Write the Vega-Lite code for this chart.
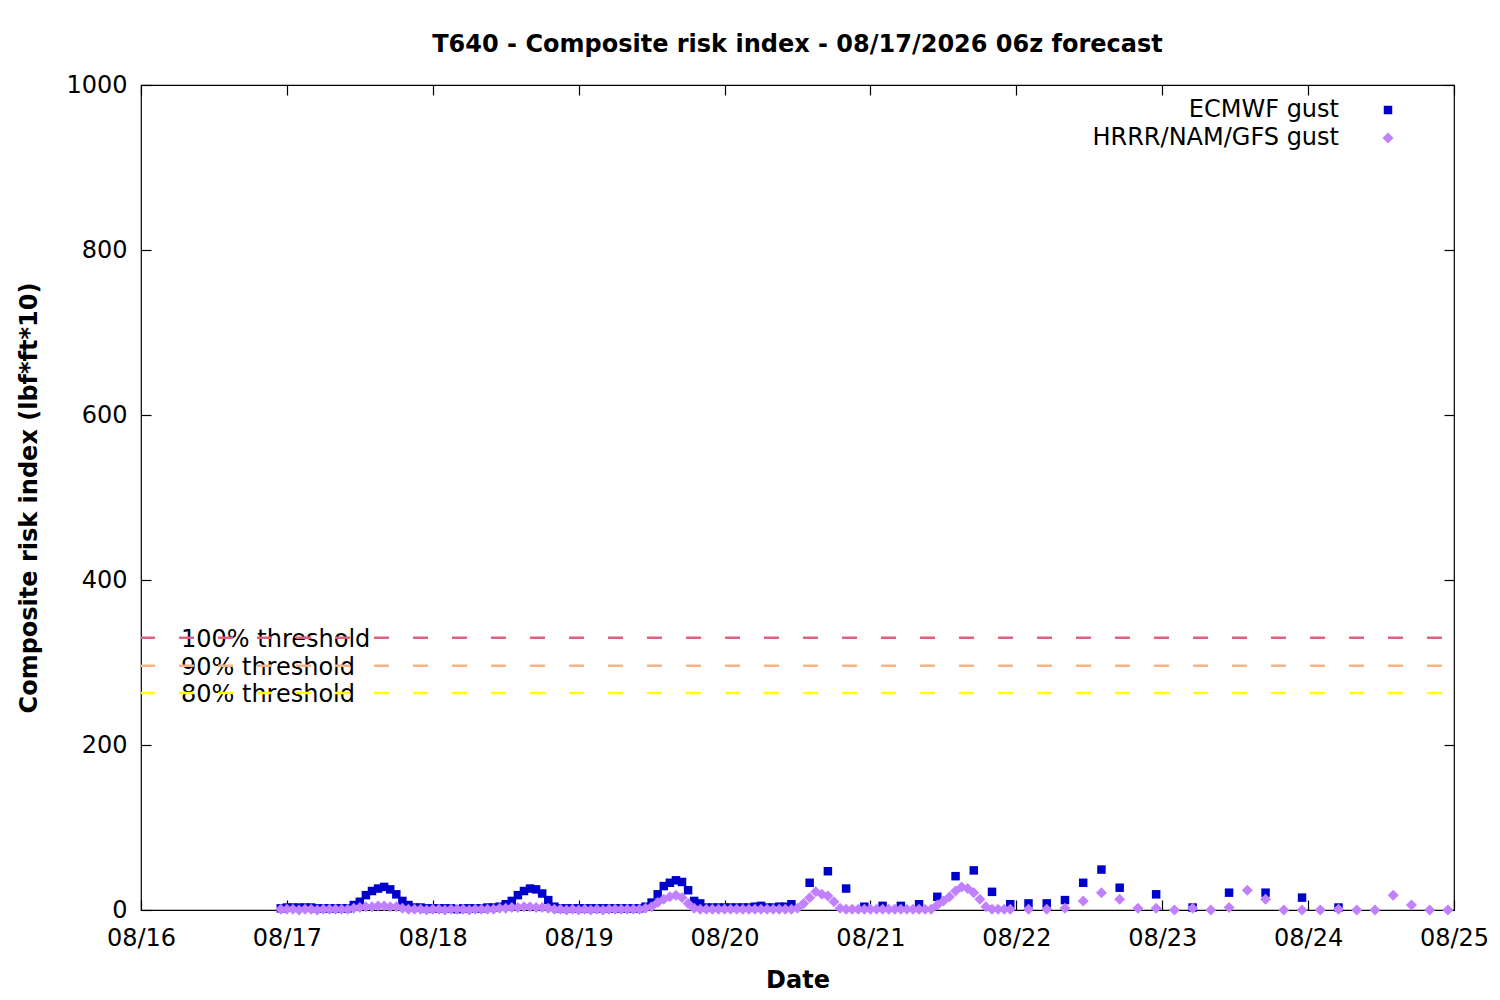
{
  "$schema": "https://vega.github.io/schema/vega-lite/v6.json",
  "width": 1313,
  "height": 825,
  "autosize": "none",
  "padding": {"left": 141, "top": 85, "right": 46, "bottom": 90},
  "background": "white",
  "config": {
    "view": {"stroke": "black", "strokeWidth": 1.2},
    "font": "DejaVu Sans",
    "axis": {
      "labelFont": "DejaVu Sans", "labelFontSize": 24, "labelColor": "black",
      "titleFont": "DejaVu Sans", "titleFontSize": 24, "titleFontWeight": "bold", "titleColor": "black",
      "tickColor": "black", "tickSize": -10, "tickWidth": 1.2, "domain": false, "grid": false
    }
  },
  "title": {
    "text": "T640 - Composite risk index - 08/17/2026 06z forecast",
    "font": "DejaVu Sans", "fontSize": 24, "fontWeight": "bold", "color": "black",
    "anchor": "middle", "frame": "group", "offset": 16
  },
  "datasets": {
    "thresholds": [
      {"label": "100% threshold", "value": 330},
      {"label": "90% threshold", "value": 296},
      {"label": "80% threshold", "value": 263}
    ],
    "gust": [
      {"time": "2026-08-16T23:00Z", "series": "ECMWF gust", "value": 2},
      {"time": "2026-08-17T00:00Z", "series": "ECMWF gust", "value": 3},
      {"time": "2026-08-17T01:00Z", "series": "ECMWF gust", "value": 3},
      {"time": "2026-08-17T02:00Z", "series": "ECMWF gust", "value": 3},
      {"time": "2026-08-17T03:00Z", "series": "ECMWF gust", "value": 3},
      {"time": "2026-08-17T04:00Z", "series": "ECMWF gust", "value": 3},
      {"time": "2026-08-17T05:00Z", "series": "ECMWF gust", "value": 2},
      {"time": "2026-08-17T06:00Z", "series": "ECMWF gust", "value": 2},
      {"time": "2026-08-17T07:00Z", "series": "ECMWF gust", "value": 2},
      {"time": "2026-08-17T08:00Z", "series": "ECMWF gust", "value": 2},
      {"time": "2026-08-17T09:00Z", "series": "ECMWF gust", "value": 2},
      {"time": "2026-08-17T10:00Z", "series": "ECMWF gust", "value": 2},
      {"time": "2026-08-17T11:00Z", "series": "ECMWF gust", "value": 6},
      {"time": "2026-08-17T12:00Z", "series": "ECMWF gust", "value": 10},
      {"time": "2026-08-17T13:00Z", "series": "ECMWF gust", "value": 18},
      {"time": "2026-08-17T14:00Z", "series": "ECMWF gust", "value": 23},
      {"time": "2026-08-17T15:00Z", "series": "ECMWF gust", "value": 26},
      {"time": "2026-08-17T16:00Z", "series": "ECMWF gust", "value": 28},
      {"time": "2026-08-17T17:00Z", "series": "ECMWF gust", "value": 25},
      {"time": "2026-08-17T18:00Z", "series": "ECMWF gust", "value": 19},
      {"time": "2026-08-17T19:00Z", "series": "ECMWF gust", "value": 11},
      {"time": "2026-08-17T20:00Z", "series": "ECMWF gust", "value": 6},
      {"time": "2026-08-17T21:00Z", "series": "ECMWF gust", "value": 3},
      {"time": "2026-08-17T22:00Z", "series": "ECMWF gust", "value": 3},
      {"time": "2026-08-17T23:00Z", "series": "ECMWF gust", "value": 2},
      {"time": "2026-08-18T00:00Z", "series": "ECMWF gust", "value": 2},
      {"time": "2026-08-18T01:00Z", "series": "ECMWF gust", "value": 2},
      {"time": "2026-08-18T02:00Z", "series": "ECMWF gust", "value": 2},
      {"time": "2026-08-18T03:00Z", "series": "ECMWF gust", "value": 2},
      {"time": "2026-08-18T04:00Z", "series": "ECMWF gust", "value": 1},
      {"time": "2026-08-18T05:00Z", "series": "ECMWF gust", "value": 2},
      {"time": "2026-08-18T06:00Z", "series": "ECMWF gust", "value": 2},
      {"time": "2026-08-18T07:00Z", "series": "ECMWF gust", "value": 2},
      {"time": "2026-08-18T08:00Z", "series": "ECMWF gust", "value": 2},
      {"time": "2026-08-18T09:00Z", "series": "ECMWF gust", "value": 3},
      {"time": "2026-08-18T10:00Z", "series": "ECMWF gust", "value": 3},
      {"time": "2026-08-18T11:00Z", "series": "ECMWF gust", "value": 4},
      {"time": "2026-08-18T12:00Z", "series": "ECMWF gust", "value": 7},
      {"time": "2026-08-18T13:00Z", "series": "ECMWF gust", "value": 11},
      {"time": "2026-08-18T14:00Z", "series": "ECMWF gust", "value": 18},
      {"time": "2026-08-18T15:00Z", "series": "ECMWF gust", "value": 23},
      {"time": "2026-08-18T16:00Z", "series": "ECMWF gust", "value": 26},
      {"time": "2026-08-18T17:00Z", "series": "ECMWF gust", "value": 25},
      {"time": "2026-08-18T18:00Z", "series": "ECMWF gust", "value": 20},
      {"time": "2026-08-18T19:00Z", "series": "ECMWF gust", "value": 12},
      {"time": "2026-08-18T20:00Z", "series": "ECMWF gust", "value": 4},
      {"time": "2026-08-18T21:00Z", "series": "ECMWF gust", "value": 2},
      {"time": "2026-08-18T22:00Z", "series": "ECMWF gust", "value": 2},
      {"time": "2026-08-18T23:00Z", "series": "ECMWF gust", "value": 2},
      {"time": "2026-08-19T00:00Z", "series": "ECMWF gust", "value": 2},
      {"time": "2026-08-19T01:00Z", "series": "ECMWF gust", "value": 2},
      {"time": "2026-08-19T02:00Z", "series": "ECMWF gust", "value": 2},
      {"time": "2026-08-19T03:00Z", "series": "ECMWF gust", "value": 2},
      {"time": "2026-08-19T04:00Z", "series": "ECMWF gust", "value": 2},
      {"time": "2026-08-19T05:00Z", "series": "ECMWF gust", "value": 2},
      {"time": "2026-08-19T06:00Z", "series": "ECMWF gust", "value": 2},
      {"time": "2026-08-19T07:00Z", "series": "ECMWF gust", "value": 2},
      {"time": "2026-08-19T08:00Z", "series": "ECMWF gust", "value": 2},
      {"time": "2026-08-19T09:00Z", "series": "ECMWF gust", "value": 2},
      {"time": "2026-08-19T10:00Z", "series": "ECMWF gust", "value": 2},
      {"time": "2026-08-19T11:00Z", "series": "ECMWF gust", "value": 4},
      {"time": "2026-08-19T12:00Z", "series": "ECMWF gust", "value": 9},
      {"time": "2026-08-19T13:00Z", "series": "ECMWF gust", "value": 19},
      {"time": "2026-08-19T14:00Z", "series": "ECMWF gust", "value": 29},
      {"time": "2026-08-19T15:00Z", "series": "ECMWF gust", "value": 33},
      {"time": "2026-08-19T16:00Z", "series": "ECMWF gust", "value": 36},
      {"time": "2026-08-19T17:00Z", "series": "ECMWF gust", "value": 34},
      {"time": "2026-08-19T18:00Z", "series": "ECMWF gust", "value": 24},
      {"time": "2026-08-19T19:00Z", "series": "ECMWF gust", "value": 11},
      {"time": "2026-08-19T20:00Z", "series": "ECMWF gust", "value": 8},
      {"time": "2026-08-19T21:00Z", "series": "ECMWF gust", "value": 3},
      {"time": "2026-08-19T22:00Z", "series": "ECMWF gust", "value": 3},
      {"time": "2026-08-19T23:00Z", "series": "ECMWF gust", "value": 3},
      {"time": "2026-08-20T00:00Z", "series": "ECMWF gust", "value": 3},
      {"time": "2026-08-20T01:00Z", "series": "ECMWF gust", "value": 3},
      {"time": "2026-08-20T02:00Z", "series": "ECMWF gust", "value": 3},
      {"time": "2026-08-20T03:00Z", "series": "ECMWF gust", "value": 3},
      {"time": "2026-08-20T04:00Z", "series": "ECMWF gust", "value": 3},
      {"time": "2026-08-20T05:00Z", "series": "ECMWF gust", "value": 4},
      {"time": "2026-08-20T06:00Z", "series": "ECMWF gust", "value": 5},
      {"time": "2026-08-20T07:00Z", "series": "ECMWF gust", "value": 3},
      {"time": "2026-08-20T08:00Z", "series": "ECMWF gust", "value": 3},
      {"time": "2026-08-20T09:00Z", "series": "ECMWF gust", "value": 4},
      {"time": "2026-08-20T10:00Z", "series": "ECMWF gust", "value": 4},
      {"time": "2026-08-20T11:00Z", "series": "ECMWF gust", "value": 7},
      {"time": "2026-08-20T14:00Z", "series": "ECMWF gust", "value": 33},
      {"time": "2026-08-20T17:00Z", "series": "ECMWF gust", "value": 47},
      {"time": "2026-08-20T20:00Z", "series": "ECMWF gust", "value": 26},
      {"time": "2026-08-20T23:00Z", "series": "ECMWF gust", "value": 4},
      {"time": "2026-08-21T02:00Z", "series": "ECMWF gust", "value": 5},
      {"time": "2026-08-21T05:00Z", "series": "ECMWF gust", "value": 5},
      {"time": "2026-08-21T08:00Z", "series": "ECMWF gust", "value": 7},
      {"time": "2026-08-21T11:00Z", "series": "ECMWF gust", "value": 16},
      {"time": "2026-08-21T14:00Z", "series": "ECMWF gust", "value": 41},
      {"time": "2026-08-21T17:00Z", "series": "ECMWF gust", "value": 48},
      {"time": "2026-08-21T20:00Z", "series": "ECMWF gust", "value": 22},
      {"time": "2026-08-21T23:00Z", "series": "ECMWF gust", "value": 7},
      {"time": "2026-08-22T02:00Z", "series": "ECMWF gust", "value": 8},
      {"time": "2026-08-22T05:00Z", "series": "ECMWF gust", "value": 8},
      {"time": "2026-08-22T08:00Z", "series": "ECMWF gust", "value": 12},
      {"time": "2026-08-22T11:00Z", "series": "ECMWF gust", "value": 33},
      {"time": "2026-08-22T14:00Z", "series": "ECMWF gust", "value": 49},
      {"time": "2026-08-22T17:00Z", "series": "ECMWF gust", "value": 27},
      {"time": "2026-08-22T23:00Z", "series": "ECMWF gust", "value": 19},
      {"time": "2026-08-23T05:00Z", "series": "ECMWF gust", "value": 3},
      {"time": "2026-08-23T11:00Z", "series": "ECMWF gust", "value": 21},
      {"time": "2026-08-23T17:00Z", "series": "ECMWF gust", "value": 21},
      {"time": "2026-08-23T23:00Z", "series": "ECMWF gust", "value": 15},
      {"time": "2026-08-24T05:00Z", "series": "ECMWF gust", "value": 3},
      {"time": "2026-08-16T23:00Z", "series": "HRRR/NAM/GFS gust", "value": 1},
      {"time": "2026-08-17T00:00Z", "series": "HRRR/NAM/GFS gust", "value": 1},
      {"time": "2026-08-17T01:00Z", "series": "HRRR/NAM/GFS gust", "value": 1},
      {"time": "2026-08-17T02:00Z", "series": "HRRR/NAM/GFS gust", "value": 0},
      {"time": "2026-08-17T03:00Z", "series": "HRRR/NAM/GFS gust", "value": 1},
      {"time": "2026-08-17T04:00Z", "series": "HRRR/NAM/GFS gust", "value": 1},
      {"time": "2026-08-17T05:00Z", "series": "HRRR/NAM/GFS gust", "value": 0},
      {"time": "2026-08-17T06:00Z", "series": "HRRR/NAM/GFS gust", "value": 1},
      {"time": "2026-08-17T07:00Z", "series": "HRRR/NAM/GFS gust", "value": 1},
      {"time": "2026-08-17T08:00Z", "series": "HRRR/NAM/GFS gust", "value": 1},
      {"time": "2026-08-17T09:00Z", "series": "HRRR/NAM/GFS gust", "value": 1},
      {"time": "2026-08-17T10:00Z", "series": "HRRR/NAM/GFS gust", "value": 1},
      {"time": "2026-08-17T11:00Z", "series": "HRRR/NAM/GFS gust", "value": 2},
      {"time": "2026-08-17T12:00Z", "series": "HRRR/NAM/GFS gust", "value": 3},
      {"time": "2026-08-17T13:00Z", "series": "HRRR/NAM/GFS gust", "value": 4},
      {"time": "2026-08-17T14:00Z", "series": "HRRR/NAM/GFS gust", "value": 4},
      {"time": "2026-08-17T15:00Z", "series": "HRRR/NAM/GFS gust", "value": 5},
      {"time": "2026-08-17T16:00Z", "series": "HRRR/NAM/GFS gust", "value": 5},
      {"time": "2026-08-17T17:00Z", "series": "HRRR/NAM/GFS gust", "value": 4},
      {"time": "2026-08-17T18:00Z", "series": "HRRR/NAM/GFS gust", "value": 4},
      {"time": "2026-08-17T19:00Z", "series": "HRRR/NAM/GFS gust", "value": 2},
      {"time": "2026-08-17T20:00Z", "series": "HRRR/NAM/GFS gust", "value": 1},
      {"time": "2026-08-17T21:00Z", "series": "HRRR/NAM/GFS gust", "value": 1},
      {"time": "2026-08-17T22:00Z", "series": "HRRR/NAM/GFS gust", "value": 1},
      {"time": "2026-08-17T23:00Z", "series": "HRRR/NAM/GFS gust", "value": 0},
      {"time": "2026-08-18T00:00Z", "series": "HRRR/NAM/GFS gust", "value": 1},
      {"time": "2026-08-18T01:00Z", "series": "HRRR/NAM/GFS gust", "value": 1},
      {"time": "2026-08-18T02:00Z", "series": "HRRR/NAM/GFS gust", "value": 0},
      {"time": "2026-08-18T03:00Z", "series": "HRRR/NAM/GFS gust", "value": 1},
      {"time": "2026-08-18T04:00Z", "series": "HRRR/NAM/GFS gust", "value": 1},
      {"time": "2026-08-18T05:00Z", "series": "HRRR/NAM/GFS gust", "value": 1},
      {"time": "2026-08-18T06:00Z", "series": "HRRR/NAM/GFS gust", "value": 0},
      {"time": "2026-08-18T07:00Z", "series": "HRRR/NAM/GFS gust", "value": 1},
      {"time": "2026-08-18T08:00Z", "series": "HRRR/NAM/GFS gust", "value": 1},
      {"time": "2026-08-18T09:00Z", "series": "HRRR/NAM/GFS gust", "value": 1},
      {"time": "2026-08-18T10:00Z", "series": "HRRR/NAM/GFS gust", "value": 1},
      {"time": "2026-08-18T11:00Z", "series": "HRRR/NAM/GFS gust", "value": 2},
      {"time": "2026-08-18T12:00Z", "series": "HRRR/NAM/GFS gust", "value": 2},
      {"time": "2026-08-18T13:00Z", "series": "HRRR/NAM/GFS gust", "value": 3},
      {"time": "2026-08-18T14:00Z", "series": "HRRR/NAM/GFS gust", "value": 3},
      {"time": "2026-08-18T15:00Z", "series": "HRRR/NAM/GFS gust", "value": 4},
      {"time": "2026-08-18T16:00Z", "series": "HRRR/NAM/GFS gust", "value": 4},
      {"time": "2026-08-18T17:00Z", "series": "HRRR/NAM/GFS gust", "value": 3},
      {"time": "2026-08-18T18:00Z", "series": "HRRR/NAM/GFS gust", "value": 3},
      {"time": "2026-08-18T19:00Z", "series": "HRRR/NAM/GFS gust", "value": 2},
      {"time": "2026-08-18T20:00Z", "series": "HRRR/NAM/GFS gust", "value": 1},
      {"time": "2026-08-18T21:00Z", "series": "HRRR/NAM/GFS gust", "value": 1},
      {"time": "2026-08-18T22:00Z", "series": "HRRR/NAM/GFS gust", "value": 0},
      {"time": "2026-08-18T23:00Z", "series": "HRRR/NAM/GFS gust", "value": 1},
      {"time": "2026-08-19T00:00Z", "series": "HRRR/NAM/GFS gust", "value": 0},
      {"time": "2026-08-19T01:00Z", "series": "HRRR/NAM/GFS gust", "value": 1},
      {"time": "2026-08-19T02:00Z", "series": "HRRR/NAM/GFS gust", "value": 0},
      {"time": "2026-08-19T03:00Z", "series": "HRRR/NAM/GFS gust", "value": 1},
      {"time": "2026-08-19T04:00Z", "series": "HRRR/NAM/GFS gust", "value": 0},
      {"time": "2026-08-19T05:00Z", "series": "HRRR/NAM/GFS gust", "value": 1},
      {"time": "2026-08-19T06:00Z", "series": "HRRR/NAM/GFS gust", "value": 1},
      {"time": "2026-08-19T07:00Z", "series": "HRRR/NAM/GFS gust", "value": 1},
      {"time": "2026-08-19T08:00Z", "series": "HRRR/NAM/GFS gust", "value": 1},
      {"time": "2026-08-19T09:00Z", "series": "HRRR/NAM/GFS gust", "value": 1},
      {"time": "2026-08-19T10:00Z", "series": "HRRR/NAM/GFS gust", "value": 1},
      {"time": "2026-08-19T11:00Z", "series": "HRRR/NAM/GFS gust", "value": 2},
      {"time": "2026-08-19T12:00Z", "series": "HRRR/NAM/GFS gust", "value": 4},
      {"time": "2026-08-19T13:00Z", "series": "HRRR/NAM/GFS gust", "value": 9},
      {"time": "2026-08-19T14:00Z", "series": "HRRR/NAM/GFS gust", "value": 13},
      {"time": "2026-08-19T15:00Z", "series": "HRRR/NAM/GFS gust", "value": 16},
      {"time": "2026-08-19T16:00Z", "series": "HRRR/NAM/GFS gust", "value": 18},
      {"time": "2026-08-19T17:00Z", "series": "HRRR/NAM/GFS gust", "value": 15},
      {"time": "2026-08-19T18:00Z", "series": "HRRR/NAM/GFS gust", "value": 8},
      {"time": "2026-08-19T19:00Z", "series": "HRRR/NAM/GFS gust", "value": 2},
      {"time": "2026-08-19T20:00Z", "series": "HRRR/NAM/GFS gust", "value": 1},
      {"time": "2026-08-19T21:00Z", "series": "HRRR/NAM/GFS gust", "value": 1},
      {"time": "2026-08-19T22:00Z", "series": "HRRR/NAM/GFS gust", "value": 1},
      {"time": "2026-08-19T23:00Z", "series": "HRRR/NAM/GFS gust", "value": 1},
      {"time": "2026-08-20T00:00Z", "series": "HRRR/NAM/GFS gust", "value": 1},
      {"time": "2026-08-20T01:00Z", "series": "HRRR/NAM/GFS gust", "value": 1},
      {"time": "2026-08-20T02:00Z", "series": "HRRR/NAM/GFS gust", "value": 1},
      {"time": "2026-08-20T03:00Z", "series": "HRRR/NAM/GFS gust", "value": 1},
      {"time": "2026-08-20T04:00Z", "series": "HRRR/NAM/GFS gust", "value": 1},
      {"time": "2026-08-20T05:00Z", "series": "HRRR/NAM/GFS gust", "value": 1},
      {"time": "2026-08-20T06:00Z", "series": "HRRR/NAM/GFS gust", "value": 1},
      {"time": "2026-08-20T07:00Z", "series": "HRRR/NAM/GFS gust", "value": 1},
      {"time": "2026-08-20T08:00Z", "series": "HRRR/NAM/GFS gust", "value": 1},
      {"time": "2026-08-20T09:00Z", "series": "HRRR/NAM/GFS gust", "value": 1},
      {"time": "2026-08-20T10:00Z", "series": "HRRR/NAM/GFS gust", "value": 1},
      {"time": "2026-08-20T11:00Z", "series": "HRRR/NAM/GFS gust", "value": 1},
      {"time": "2026-08-20T12:00Z", "series": "HRRR/NAM/GFS gust", "value": 2},
      {"time": "2026-08-20T13:00Z", "series": "HRRR/NAM/GFS gust", "value": 8},
      {"time": "2026-08-20T14:00Z", "series": "HRRR/NAM/GFS gust", "value": 15},
      {"time": "2026-08-20T15:00Z", "series": "HRRR/NAM/GFS gust", "value": 22},
      {"time": "2026-08-20T16:00Z", "series": "HRRR/NAM/GFS gust", "value": 19},
      {"time": "2026-08-20T17:00Z", "series": "HRRR/NAM/GFS gust", "value": 17},
      {"time": "2026-08-20T18:00Z", "series": "HRRR/NAM/GFS gust", "value": 10},
      {"time": "2026-08-20T19:00Z", "series": "HRRR/NAM/GFS gust", "value": 2},
      {"time": "2026-08-20T20:00Z", "series": "HRRR/NAM/GFS gust", "value": 1},
      {"time": "2026-08-20T21:00Z", "series": "HRRR/NAM/GFS gust", "value": 1},
      {"time": "2026-08-20T22:00Z", "series": "HRRR/NAM/GFS gust", "value": 1},
      {"time": "2026-08-20T23:00Z", "series": "HRRR/NAM/GFS gust", "value": 1},
      {"time": "2026-08-21T00:00Z", "series": "HRRR/NAM/GFS gust", "value": 1},
      {"time": "2026-08-21T01:00Z", "series": "HRRR/NAM/GFS gust", "value": 1},
      {"time": "2026-08-21T02:00Z", "series": "HRRR/NAM/GFS gust", "value": 1},
      {"time": "2026-08-21T03:00Z", "series": "HRRR/NAM/GFS gust", "value": 1},
      {"time": "2026-08-21T04:00Z", "series": "HRRR/NAM/GFS gust", "value": 1},
      {"time": "2026-08-21T05:00Z", "series": "HRRR/NAM/GFS gust", "value": 1},
      {"time": "2026-08-21T06:00Z", "series": "HRRR/NAM/GFS gust", "value": 1},
      {"time": "2026-08-21T07:00Z", "series": "HRRR/NAM/GFS gust", "value": 1},
      {"time": "2026-08-21T08:00Z", "series": "HRRR/NAM/GFS gust", "value": 1},
      {"time": "2026-08-21T09:00Z", "series": "HRRR/NAM/GFS gust", "value": 1},
      {"time": "2026-08-21T10:00Z", "series": "HRRR/NAM/GFS gust", "value": 1},
      {"time": "2026-08-21T11:00Z", "series": "HRRR/NAM/GFS gust", "value": 6},
      {"time": "2026-08-21T12:00Z", "series": "HRRR/NAM/GFS gust", "value": 11},
      {"time": "2026-08-21T13:00Z", "series": "HRRR/NAM/GFS gust", "value": 16},
      {"time": "2026-08-21T14:00Z", "series": "HRRR/NAM/GFS gust", "value": 23},
      {"time": "2026-08-21T15:00Z", "series": "HRRR/NAM/GFS gust", "value": 28},
      {"time": "2026-08-21T16:00Z", "series": "HRRR/NAM/GFS gust", "value": 26},
      {"time": "2026-08-21T17:00Z", "series": "HRRR/NAM/GFS gust", "value": 21},
      {"time": "2026-08-21T18:00Z", "series": "HRRR/NAM/GFS gust", "value": 13},
      {"time": "2026-08-21T19:00Z", "series": "HRRR/NAM/GFS gust", "value": 4},
      {"time": "2026-08-21T20:00Z", "series": "HRRR/NAM/GFS gust", "value": 1},
      {"time": "2026-08-21T21:00Z", "series": "HRRR/NAM/GFS gust", "value": 1},
      {"time": "2026-08-21T22:00Z", "series": "HRRR/NAM/GFS gust", "value": 1},
      {"time": "2026-08-21T23:00Z", "series": "HRRR/NAM/GFS gust", "value": 1},
      {"time": "2026-08-22T02:00Z", "series": "HRRR/NAM/GFS gust", "value": 1},
      {"time": "2026-08-22T05:00Z", "series": "HRRR/NAM/GFS gust", "value": 1},
      {"time": "2026-08-22T08:00Z", "series": "HRRR/NAM/GFS gust", "value": 2},
      {"time": "2026-08-22T11:00Z", "series": "HRRR/NAM/GFS gust", "value": 11},
      {"time": "2026-08-22T14:00Z", "series": "HRRR/NAM/GFS gust", "value": 21},
      {"time": "2026-08-22T17:00Z", "series": "HRRR/NAM/GFS gust", "value": 13},
      {"time": "2026-08-22T20:00Z", "series": "HRRR/NAM/GFS gust", "value": 2},
      {"time": "2026-08-22T23:00Z", "series": "HRRR/NAM/GFS gust", "value": 2},
      {"time": "2026-08-23T02:00Z", "series": "HRRR/NAM/GFS gust", "value": 0},
      {"time": "2026-08-23T05:00Z", "series": "HRRR/NAM/GFS gust", "value": 2},
      {"time": "2026-08-23T08:00Z", "series": "HRRR/NAM/GFS gust", "value": 0},
      {"time": "2026-08-23T11:00Z", "series": "HRRR/NAM/GFS gust", "value": 3},
      {"time": "2026-08-23T14:00Z", "series": "HRRR/NAM/GFS gust", "value": 24},
      {"time": "2026-08-23T17:00Z", "series": "HRRR/NAM/GFS gust", "value": 13},
      {"time": "2026-08-23T20:00Z", "series": "HRRR/NAM/GFS gust", "value": 0},
      {"time": "2026-08-23T23:00Z", "series": "HRRR/NAM/GFS gust", "value": 0},
      {"time": "2026-08-24T02:00Z", "series": "HRRR/NAM/GFS gust", "value": 0},
      {"time": "2026-08-24T05:00Z", "series": "HRRR/NAM/GFS gust", "value": 1},
      {"time": "2026-08-24T08:00Z", "series": "HRRR/NAM/GFS gust", "value": 0},
      {"time": "2026-08-24T11:00Z", "series": "HRRR/NAM/GFS gust", "value": 0},
      {"time": "2026-08-24T14:00Z", "series": "HRRR/NAM/GFS gust", "value": 18},
      {"time": "2026-08-24T17:00Z", "series": "HRRR/NAM/GFS gust", "value": 6},
      {"time": "2026-08-24T20:00Z", "series": "HRRR/NAM/GFS gust", "value": 0},
      {"time": "2026-08-24T23:00Z", "series": "HRRR/NAM/GFS gust", "value": 0}
    ]
  },
  "layer": [
    {
      "data": {"name": "thresholds"},
      "mark": {"type": "text", "align": "left", "baseline": "middle", "dy": 2, "font": "DejaVu Sans", "fontSize": 24, "color": "black"},
      "encoding": {
        "x": {
          "datum": {"year": 2026, "month": 8, "date": 16, "hours": 6, "minutes": 35, "utc": true},
          "type": "temporal",
          "scale": {
            "type": "utc",
            "domain": [
              {"year": 2026, "month": 8, "date": 16, "utc": true},
              {"year": 2026, "month": 8, "date": 25, "utc": true}
            ]
          },
          "axis": {
            "orient": "top", "labels": false, "title": null,
            "values": [
              {"year": 2026, "month": 8, "date": 16, "utc": true},
              {"year": 2026, "month": 8, "date": 17, "utc": true},
              {"year": 2026, "month": 8, "date": 18, "utc": true},
              {"year": 2026, "month": 8, "date": 19, "utc": true},
              {"year": 2026, "month": 8, "date": 20, "utc": true},
              {"year": 2026, "month": 8, "date": 21, "utc": true},
              {"year": 2026, "month": 8, "date": 22, "utc": true},
              {"year": 2026, "month": 8, "date": 23, "utc": true},
              {"year": 2026, "month": 8, "date": 24, "utc": true},
              {"year": 2026, "month": 8, "date": 25, "utc": true}
            ]
          }
        },
        "y": {
          "field": "value", "type": "quantitative",
          "scale": {"domain": [0, 1000], "nice": false},
          "axis": {"orient": "right", "labels": false, "title": null, "values": [0, 200, 400, 600, 800, 1000]}
        },
        "text": {"field": "label"}
      }
    },
    {
      "data": {"name": "thresholds"},
      "mark": {"type": "rule", "strokeDash": [15, 24], "strokeDashOffset": 27, "strokeWidth": 2.5},
      "encoding": {
        "y": {"field": "value", "type": "quantitative", "axis": null},
        "stroke": {
          "field": "label", "type": "nominal",
          "scale": {"domain": ["100% threshold", "90% threshold", "80% threshold"], "range": ["#e0607e", "#f5b486", "#ffff00"]},
          "legend": null
        }
      }
    },
    {
      "data": {"name": "gust"},
      "mark": {"type": "point", "filled": true, "opacity": 1},
      "encoding": {
        "x": {
          "field": "time", "type": "temporal",
          "scale": {
            "type": "utc",
            "domain": [
              {"year": 2026, "month": 8, "date": 16, "utc": true},
              {"year": 2026, "month": 8, "date": 25, "utc": true}
            ]
          },
          "axis": {
            "orient": "bottom", "title": "Date",
            "labelExpr": "utcFormat(datum.value, '%m/%d')",
            "labelPadding": 26, "titlePadding": 18, "labelFlush": false, "labelOverlap": false,
            "values": [
              {"year": 2026, "month": 8, "date": 16, "utc": true},
              {"year": 2026, "month": 8, "date": 17, "utc": true},
              {"year": 2026, "month": 8, "date": 18, "utc": true},
              {"year": 2026, "month": 8, "date": 19, "utc": true},
              {"year": 2026, "month": 8, "date": 20, "utc": true},
              {"year": 2026, "month": 8, "date": 21, "utc": true},
              {"year": 2026, "month": 8, "date": 22, "utc": true},
              {"year": 2026, "month": 8, "date": 23, "utc": true},
              {"year": 2026, "month": 8, "date": 24, "utc": true},
              {"year": 2026, "month": 8, "date": 25, "utc": true}
            ]
          }
        },
        "y": {
          "field": "value", "type": "quantitative",
          "scale": {"domain": [0, 1000], "nice": false},
          "axis": {
            "orient": "left", "title": "Composite risk index (lbf*ft*10)",
            "values": [0, 200, 400, 600, 800, 1000], "format": "d",
            "labelPadding": 24, "titlePadding": 24, "labelFlush": false
          }
        },
        "color": {
          "field": "series", "type": "nominal",
          "scale": {"domain": ["ECMWF gust", "HRRR/NAM/GFS gust"], "range": ["#0000cd", "#c080ff"]},
          "legend": {
            "orient": "none", "legendX": 1235, "legendY": 13, "title": null,
            "labelAlign": "right", "labelOffset": -61, "labelLimit": 0,
            "labelFont": "DejaVu Sans", "labelFontSize": 24, "labelColor": "black",
            "symbolSize": 80, "rowPadding": 4, "padding": 0
          }
        },
        "shape": {
          "field": "series", "type": "nominal",
          "scale": {"domain": ["ECMWF gust", "HRRR/NAM/GFS gust"], "range": ["square", "diamond"]}
        },
        "size": {
          "field": "series", "type": "nominal",
          "scale": {"domain": ["ECMWF gust", "HRRR/NAM/GFS gust"], "range": [72, 120]},
          "legend": null
        }
      }
    }
  ]
}
